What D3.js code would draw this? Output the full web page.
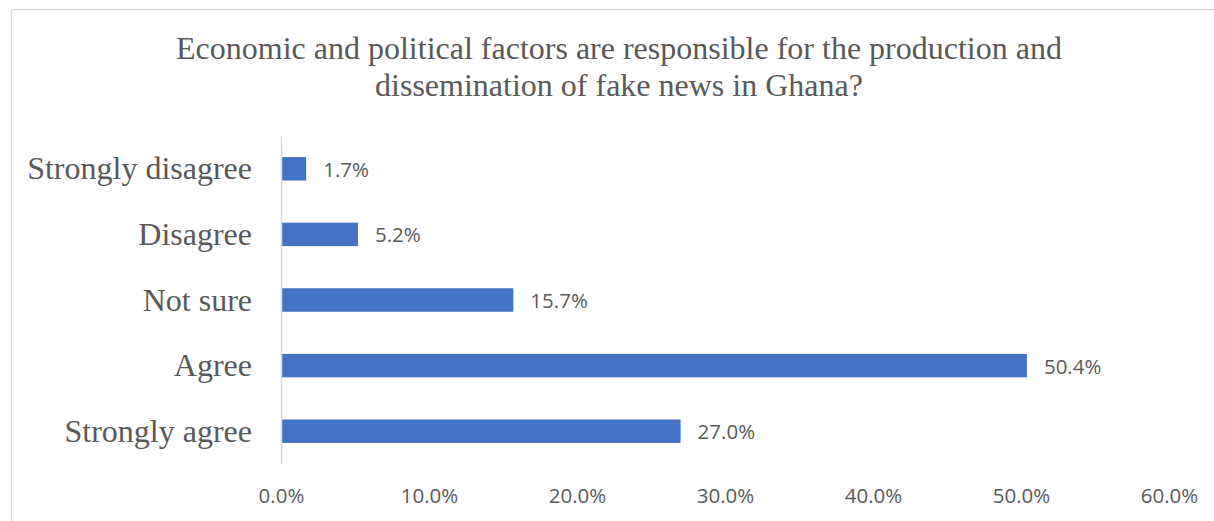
<!DOCTYPE html>
<html>
<head>
<meta charset="utf-8">
<script src="https://cdn.jsdelivr.net/npm/d3@7"></script>
<style>
  html, body { margin: 0; padding: 0; background: #fff; }
  svg { display: block; }
</style>
</head>
<body>
<svg id="chart" width="1214" height="521"></svg>
<script>
// Survey responses (share of respondents)
const categories = ["Strongly disagree", "Disagree", "Not sure", "Agree", "Strongly agree"];
const values = [0.017, 0.052, 0.157, 0.504, 0.270];
const tickValues = [0, 0.1, 0.2, 0.3, 0.4, 0.5, 0.6];
const titleLines = [
  "Economic and political factors are responsible for the production and",
  "dissemination of fake news in Ghana?"
];

const svg = d3.select("#chart");
const W = 1214, H = 521;
const serif = "'Liberation Serif', 'Times New Roman', serif";
const sans = "'Open Sans', 'Noto Sans', sans-serif";
const textColor = "#595959";
const barColor = "#4472C4";

// chart frame
svg.append("rect")
  .attr("x", 11.5).attr("y", 9.5)
  .attr("width", 1230).attr("height", 540)
  .attr("fill", "#fff")
  .attr("stroke", "#d9d9d9").attr("stroke-width", 1.3);

// title
svg.append("g").selectAll("text")
  .data(titleLines)
  .join("text")
  .attr("x", 619)
  .attr("y", (d, i) => 59 + i * 37)
  .attr("text-anchor", "middle")
  .attr("font-family", serif)
  .attr("font-size", 32)
  .attr("fill", textColor)
  .text(d => d);

const x = d3.scaleLinear().domain([0, 0.6]).range([281, 1169]);
const y = d3.scaleBand().domain(categories).range([136, 464])
  .paddingInner(0.642).paddingOuter(0.321);

// bars
svg.append("g").selectAll("rect")
  .data(values)
  .join("rect")
  .attr("x", x(0))
  .attr("y", (d, i) => y(categories[i]))
  .attr("width", d => x(d) - x(0))
  .attr("height", y.bandwidth())
  .attr("fill", barColor);

// value labels
const pct = d3.format(".1%");
svg.append("g").selectAll("text")
  .data(values)
  .join("text")
  .attr("x", d => x(d) + 17)
  .attr("y", (d, i) => y(categories[i]) + y.bandwidth() / 2 + 8)
  .attr("font-family", sans)
  .attr("font-size", 20.5)
  .attr("fill", textColor)
  .text(d => pct(d));

// category axis (left)
const yAxis = svg.append("g")
  .attr("transform", `translate(${x(0)},0)`)
  .call(d3.axisLeft(y).tickSize(0).tickPadding(29));
yAxis.select(".domain").attr("stroke", "#d9d9d9").attr("stroke-width", 1.5);
yAxis.selectAll("text")
  .attr("font-family", serif)
  .attr("font-size", 32)
  .attr("fill", textColor)
  .attr("dy", "0.33em");

// value axis (bottom), labels only
const xAxis = svg.append("g")
  .attr("transform", `translate(0,464)`)
  .call(d3.axisBottom(x).tickValues(tickValues).tickFormat(pct).tickSize(0).tickPadding(39));
xAxis.select(".domain").remove();
xAxis.selectAll("text")
  .attr("font-family", sans)
  .attr("font-size", 20.5)
  .attr("fill", textColor)
  .attr("dy", 0);

// bring axis line above bars
yAxis.raise();
</script>
</body>
</html>
